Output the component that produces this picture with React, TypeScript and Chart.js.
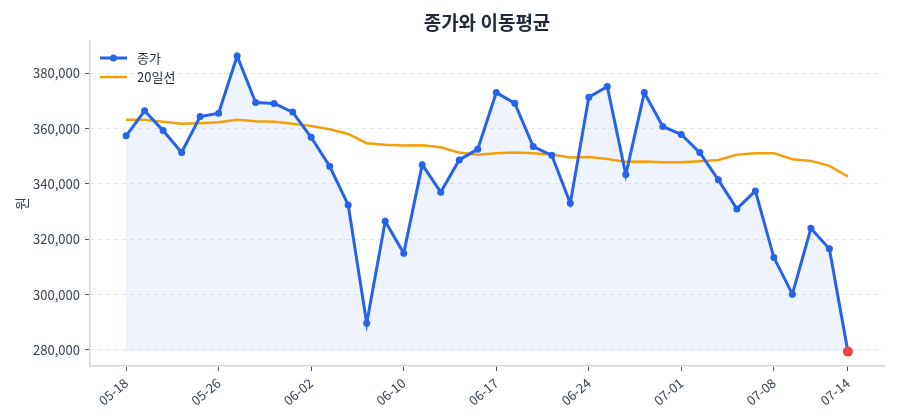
import React, { useEffect, useRef } from "react";
import { Chart, registerables } from "chart.js";

Chart.register(...registerables);

const dates = [
  "05-18", "05-19", "05-20", "05-21", "05-22", "05-26", "05-27", "05-28", "05-29", "06-01",
  "06-02", "06-03", "06-04", "06-05", "06-09", "06-10", "06-11", "06-12", "06-13", "06-16",
  "06-17", "06-18", "06-19", "06-20", "06-23", "06-24", "06-25", "06-26", "06-27", "06-30",
  "07-01", "07-02", "07-03", "07-04", "07-07", "07-08", "07-09", "07-10", "07-11", "07-14",
];

const close = [
  357400, 366450, 359300, 351400, 364400, 365600, 386300, 369450, 369100, 366000,
  356900, 346400, 332450, 289650, 326550, 314950, 347000, 337050, 348700, 352600,
  373050, 369200, 353550, 350400, 333050, 371400, 375250, 343400, 373050, 360800,
  357900, 351350, 341500, 331000, 337500, 313400, 300150, 324000, 316550, 279400,
];

const ma20 = [
  363200, 363200, 362500, 361750, 362000, 362350, 363200, 362700, 362500, 361750,
  361000, 359800, 358100, 354750, 354150, 353900, 354000, 353300, 351350, 350550,
  351150, 351350, 351150, 350650, 349550, 349800, 349000, 348000, 348100, 347900,
  347900, 348250, 348700, 350550, 351150, 351150, 348950, 348350, 346550, 342700,
];

const xTickIndex = [0, 5, 10, 15, 20, 25, 30, 35, 39];
const yTicks = [280000, 300000, 320000, 340000, 360000, 380000];

const TITLE = "종가와 이동평균";
const Y_TITLE = "원";
const LEGEND_CLOSE = "종가";
const LEGEND_MA = "20일선";

const BLUE = "#2563eb";
const ORANGE = "#f59e0b";
const RED = "#ef4444";
const FONT = "'Noto Sans CJK KR', 'Noto Sans', sans-serif";

const overlayPlugin = {
  id: "overlay",
  afterDraw(chart: any) {
    const { ctx, chartArea } = chart;
    ctx.save();
    // title
    ctx.fillStyle = "#1f2937";
    ctx.font = `bold 19px ${FONT}`;
    ctx.textAlign = "center";
    ctx.textBaseline = "middle";
    ctx.fillText(TITLE, (chartArea.left + chartArea.right) / 2, 23);
    // legend
    const lx = chartArea.left + 10;
    const items = [
      { label: LEGEND_CLOSE, color: BLUE, width: 3, marker: true, y: chartArea.top + 17 },
      { label: LEGEND_MA, color: ORANGE, width: 2.5, marker: false, y: chartArea.top + 36 },
    ];
    for (const it of items) {
      ctx.strokeStyle = it.color;
      ctx.lineWidth = it.width;
      ctx.beginPath();
      ctx.moveTo(lx, it.y);
      ctx.lineTo(lx + 27, it.y);
      ctx.stroke();
      if (it.marker) {
        ctx.fillStyle = it.color;
        ctx.beginPath();
        ctx.arc(lx + 13.5, it.y, 3.5, 0, Math.PI * 2);
        ctx.fill();
      }
      ctx.fillStyle = "#1f2937";
      ctx.font = `13px ${FONT}`;
      ctx.textAlign = "left";
      ctx.textBaseline = "middle";
      ctx.fillText(it.label, lx + 37, it.y);
    }
    ctx.restore();
  },
};

export default function App() {
  const ref = useRef<HTMLCanvasElement>(null);

  useEffect(() => {
    document.body.style.margin = "0";
    const last = close.length - 1;
    const chart = new Chart(ref.current as HTMLCanvasElement, {
      type: "line",
      data: {
        datasets: [
          {
            label: LEGEND_CLOSE,
            data: close.map((v, i) => ({ x: i, y: v })),
            borderColor: BLUE,
            borderWidth: 3,
            tension: 0,
            pointRadius: (c: any) => (c.dataIndex === last ? 5 : 3.5),
            pointBackgroundColor: (c: any) => (c.dataIndex === last ? RED : BLUE),
            pointBorderWidth: 0,
            pointBorderColor: (c: any) => (c.dataIndex === last ? RED : BLUE),
            fill: { value: Math.min(...close) },
            backgroundColor: "rgba(37,99,235,0.08)",
          },
          {
            label: LEGEND_MA,
            data: ma20.map((v, i) => ({ x: i, y: v })),
            borderColor: ORANGE,
            borderWidth: 2.5,
            tension: 0,
            pointRadius: 0,
            fill: false,
          },
        ],
      },
      options: {
        responsive: false,
        animation: false,
        layout: { padding: { top: 41, right: 16, left: 0, bottom: 0 } },
        plugins: {
          legend: { display: false },
          title: { display: false },
          tooltip: { enabled: false },
          filler: { drawTime: "beforeDatasetsDraw" },
        } as any,
        scales: {
          x: {
            type: "linear",
            min: -1.95,
            max: close.length - 1 + 1.95,
            afterFit: (s: any) => {
              s.height = 54;
            },
            afterBuildTicks: (s: any) => {
              s.ticks = xTickIndex.map((v) => ({ value: v }));
            },
            ticks: {
              autoSkip: false,
              minRotation: 40,
              maxRotation: 40,
              padding: 4,
              color: "#374151",
              font: { family: FONT, size: 13 },
              callback: (v: any) => dates[v] ?? "",
            },
            grid: {
              drawOnChartArea: false,
              drawTicks: true,
              tickLength: 5,
              tickColor: "#4b5563",
              tickWidth: 1,
            },
            border: { display: true, color: "#d1d5db", width: 1.5 },
          },
          y: {
            type: "linear",
            min: 274200,
            max: 391700,
            afterFit: (s: any) => {
              s.width = 90;
            },
            afterBuildTicks: (s: any) => {
              s.ticks = yTicks.map((v) => ({ value: v }));
            },
            ticks: {
              padding: 5,
              color: "#374151",
              font: { family: FONT, size: 13 },
              callback: (v: any) => Number(v).toLocaleString("en-US"),
            },
            grid: {
              color: "#e5e7eb",
              lineWidth: 1,
              drawTicks: true,
              tickLength: 5,
              tickColor: "#4b5563",
              tickWidth: 1,
              tickBorderDash: [],
            } as any,
            border: { display: true, color: "#d1d5db", width: 1.5, dash: [4, 4] },
            title: {
              display: true,
              text: Y_TITLE,
              color: "#374151",
              font: { family: FONT, size: 14 },
              padding: { top: 13, bottom: 0 },
            },
          },
        },
      },
      plugins: [overlayPlugin],
    });
    return () => chart.destroy();
  }, []);

  return <canvas ref={ref} width={900} height={420} style={{ display: "block" }} />;
}
